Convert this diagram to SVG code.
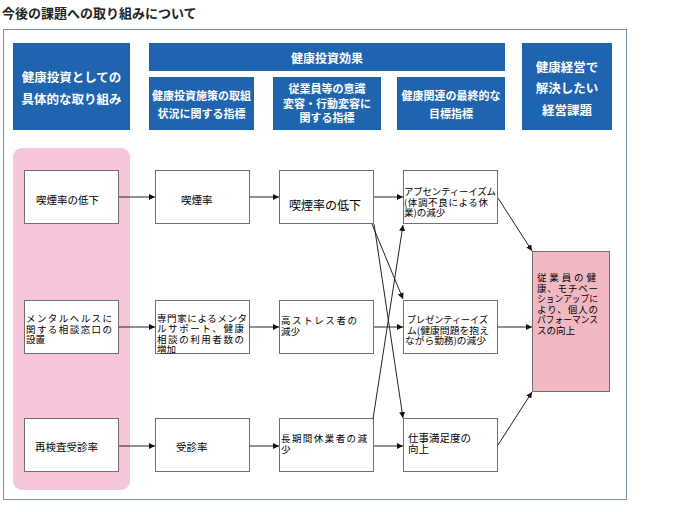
<svg xmlns="http://www.w3.org/2000/svg" width="683" height="512" viewBox="0 0 683 512">
<defs>
<style>
.hdr{fill:#1f64ae;}
.ht{fill:#ffffff;font-family:"Noto Sans CJK JP","Noto Sans",sans-serif;font-weight:bold;text-anchor:middle;}
.box{fill:#ffffff;stroke:#707070;stroke-width:1;}
.t{fill:#000000;font-family:"Noto Sans CJK JP","Noto Sans",sans-serif;font-size:10.5px;}
.m{font-size:9.5px;}
.con line{stroke:#222222;stroke-width:1;marker-end:url(#ah);}
</style>
<marker id="ah" markerWidth="6" markerHeight="6" refX="6" refY="3" orient="auto" markerUnits="userSpaceOnUse">
<path d="M0,0 L6,3 L0,6 z" fill="#111111"/>
</marker>
</defs>
<rect x="0" y="0" width="683" height="512" fill="#ffffff"/>
<text x="2" y="18" style="font-family:'Noto Sans CJK JP','Noto Sans',sans-serif;font-size:13px;font-weight:bold;fill:#222">今後の課題への取り組みについて</text>
<rect x="3.5" y="29.5" width="623" height="470" fill="none" stroke="#7b8f9c" stroke-width="1"/>

<g id="h-left"><rect class="hdr" x="13" y="43" width="117" height="87"/>
<text class="ht" x="71.5" y="82" font-size="12.5">健康投資としての</text>
<text class="ht" x="71.5" y="104" font-size="12.5">具体的な取り組み</text></g>
<g id="h-effect"><rect class="hdr" x="149" y="43" width="356" height="28"/>
<text class="ht" x="327" y="63" font-size="12">健康投資効果</text></g>
<g id="h-sub1"><rect class="hdr" x="149" y="77" width="105" height="53"/>
<text class="ht" x="201.5" y="100" font-size="11">健康投資施策の取組</text>
<text class="ht" x="201.5" y="118" font-size="11">状況に関する指標</text></g>
<g id="h-sub2"><rect class="hdr" x="273" y="77" width="108" height="53"/>
<text class="ht" x="327" y="93" font-size="11">従業員等の意識</text>
<text class="ht" x="327" y="108" font-size="11">変容・行動変容に</text>
<text class="ht" x="327" y="122" font-size="11">関する指標</text></g>
<g id="h-sub3"><rect class="hdr" x="397" y="77" width="108" height="53"/>
<text class="ht" x="451" y="100" font-size="11">健康関連の最終的な</text>
<text class="ht" x="451" y="118" font-size="11">目標指標</text></g>
<g id="h-right"><rect class="hdr" x="522" y="43" width="90" height="87"/>
<text class="ht" x="567" y="72" font-size="12.5">健康経営で</text>
<text class="ht" x="567" y="93" font-size="12.5">解決したい</text>
<text class="ht" x="567" y="115" font-size="12.5">経営課題</text></g>

<rect x="13" y="148" width="117" height="342" rx="9" fill="#f5c5da"/>

<g id="c1r1"><rect class="box" x="24.5" y="170.5" width="94" height="53"/>
<text class="t" x="36" y="204">喫煙率の低下</text></g>
<g id="c1r2"><rect class="box" x="24.5" y="300.5" width="94" height="53"/>
<text class="t m" x="26" y="322" textLength="86" lengthAdjust="spacing">メンタルヘルスに</text>
<text class="t m" x="26" y="332.5" textLength="86" lengthAdjust="spacing">関する相談窓口の</text>
<text class="t m" x="26" y="343">設置</text></g>
<g id="c1r3"><rect class="box" x="24.5" y="418.5" width="94" height="53"/>
<text class="t" x="35" y="451">再検査受診率</text></g>

<g id="c2r1"><rect class="box" x="155.5" y="170.5" width="94" height="53"/>
<text class="t" x="181" y="204">喫煙率</text></g>
<g id="c2r2"><rect class="box" x="155.5" y="300.5" width="94" height="53"/>
<text class="t m" x="157" y="321.5" textLength="90" lengthAdjust="spacing">専門家によるメンタ</text>
<text class="t m" x="157" y="332" textLength="87" lengthAdjust="spacing">ルサポート、健康</text>
<text class="t m" x="157" y="342.5" textLength="87" lengthAdjust="spacing">相談の利用者数の</text>
<text class="t m" x="157" y="353">増加</text></g>
<g id="c2r3"><rect class="box" x="155.5" y="418.5" width="94" height="53"/>
<text class="t" x="176" y="451">受診率</text></g>

<g id="c3r1"><rect class="box" x="279.5" y="170.5" width="94" height="53"/>
<text class="t" x="289" y="209.5" style="font-size:12px">喫煙率の低下</text></g>
<g id="c3r2"><rect class="box" x="279.5" y="300.5" width="94" height="53"/>
<text class="t m" x="281" y="324" textLength="76" lengthAdjust="spacing">高ストレス者の</text>
<text class="t m" x="281" y="334.5">減少</text></g>
<g id="c3r3"><rect class="box" x="279.5" y="418.5" width="94" height="53"/>
<text class="t m" x="281" y="442" textLength="86" lengthAdjust="spacing">長期間休業者の減</text>
<text class="t m" x="281" y="452.5">少</text></g>

<g id="c4r1"><rect class="box" x="403.5" y="170.5" width="94" height="53"/>
<text class="t m" x="404" y="195" textLength="92" lengthAdjust="spacing">アブセンティーイズム</text>
<text class="t m" x="404" y="205.5" textLength="84" lengthAdjust="spacing">(体調不良による休</text>
<text class="t m" x="404" y="216">業)の減少</text></g>
<g id="c4r2"><rect class="box" x="403.5" y="300.5" width="94" height="53"/>
<text class="t m" x="407" y="323" textLength="81" lengthAdjust="spacingAndGlyphs">プレゼンティーイズ</text>
<text class="t m" x="407" y="333.5" textLength="82" lengthAdjust="spacingAndGlyphs">ム(健康問題を抱え</text>
<text class="t m" x="405" y="344" textLength="81" lengthAdjust="spacingAndGlyphs">ながら勤務)の減少</text></g>
<g id="c4r3"><rect class="box" x="403.5" y="418.5" width="94" height="53"/>
<text class="t" x="408" y="442">仕事満足度の</text>
<text class="t" x="408" y="452.5">向上</text></g>

<g id="goal"><rect x="532.5" y="251.5" width="77" height="140" fill="#f2b8c2" stroke="#707070" stroke-width="1"/>
<text class="t m" x="537" y="281" textLength="59" lengthAdjust="spacing">従業員の健</text>
<text class="t m" x="537" y="291.5" textLength="61" lengthAdjust="spacing">康、モチベー</text>
<text class="t m" x="537" y="302" textLength="61" lengthAdjust="spacingAndGlyphs">ションアップに</text>
<text class="t m" x="537" y="312.5" textLength="61" lengthAdjust="spacing">より、個人の</text>
<text class="t m" x="537" y="323" textLength="61" lengthAdjust="spacingAndGlyphs">パフォーマンス</text>
<text class="t m" x="537" y="333.5">スの向上</text></g>

<g id="connectors" class="con">
<line x1="119" y1="197" x2="155" y2="197"/>
<line x1="250" y1="197" x2="279" y2="197"/>
<line x1="374" y1="197" x2="403" y2="197"/>
<line x1="119" y1="327" x2="155" y2="327"/>
<line x1="250" y1="327" x2="279" y2="327"/>
<line x1="374" y1="327" x2="403" y2="327"/>
<line x1="119" y1="446" x2="155" y2="446"/>
<line x1="250" y1="446" x2="279" y2="446"/>
<line x1="374" y1="446" x2="403" y2="446"/>
<line x1="372" y1="224" x2="403" y2="299"/>
<line x1="374" y1="224" x2="403" y2="418"/>
<line x1="373" y1="419" x2="403" y2="225"/>
<line x1="498" y1="198" x2="532" y2="251"/>
<line x1="498" y1="327" x2="532" y2="327"/>
<line x1="498" y1="445" x2="532" y2="392"/>
</g>
</svg>
